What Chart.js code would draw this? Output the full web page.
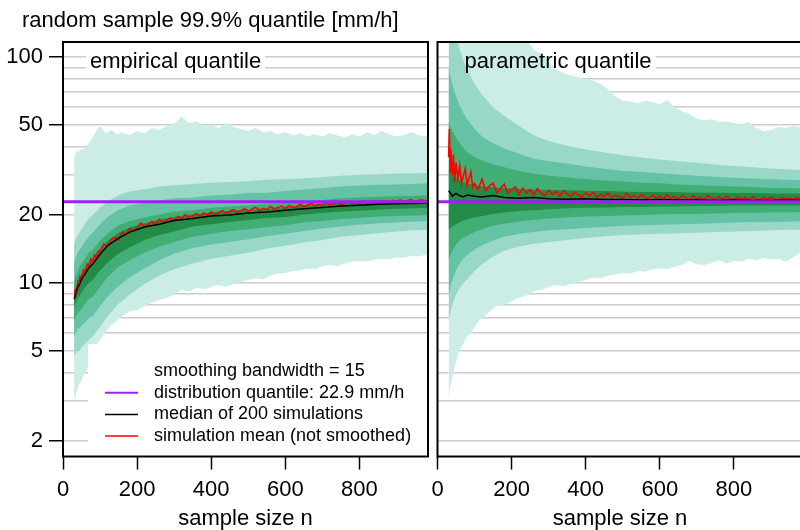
<!DOCTYPE html>
<html>
<head>
<meta charset="utf-8">
<script src="https://cdn.jsdelivr.net/npm/chart.js@4.4.1/dist/chart.umd.min.js"></script>
<style>
  html, body { margin: 0; padding: 0; background: #fff; overflow: hidden; width: 800px; height: 530px; }
  canvas { position: absolute; top: 0; }
  #leftChart { left: 0; }
  #rightChart { left: 421px; }
</style>
</head>
<body>
<canvas id="leftChart" width="432" height="530"></canvas>
<canvas id="rightChart" width="390" height="530"></canvas>
<script>
// ---- data ----
const trueQ = 22.9;
const xRange = [0, 985];
const yRange = [1.707, 116.5];
const xTicks = [0, 200, 400, 600, 800];
const yLabels = [2, 5, 10, 20, 50, 100];
const yGrid = [2, 3, 4, 5, 6, 7, 8, 9, 10, 20, 30, 40, 50, 60, 70, 80, 90, 100];

// quantile bands (inner 4) sample sizes
const nBand = [30,35,40,45,50,60,70,80,100,120,150,180,220,260,300,350,400,450,500,550,600,650,700,750,800,850,900,950,985];
// outer band (min/max) sample sizes
const nOuter = [30,33,36,40,45,50,55,60,70,80,90,100,115,130,145,160,180,200,220,240,260,280,300,320,340,360,380,400,420,440,460,480,500,520,540,560,580,600,620,640,660,680,700,720,740,760,780,800,820,840,860,880,900,920,940,960,985];
// simulation mean sample sizes
const nMean = [30,32,34,36,38,40,43,46,50,55,60,65,70,75,80,85,90,95,100,110,120,130,140,150,160,170,180,190,200,210,220,230,240,250,260,270,280,290,300,310,320,330,340,350,360,370,380,390,400,410,420,430,440,450,460,470,480,490,500,510,520,530,540,550,560,570,580,590,600,610,620,630,640,650,660,670,680,690,700,710,720,730,740,750,760,770,780,790,800,810,820,830,840,850,860,870,880,890,900,910,920,930,940,950,960,970,980];

// empirical quantile panel
const empMedian = [8.5,9.0,9.6,9.9,10.4,11.0,11.7,12.1,13.4,14.6,15.8,16.8,17.7,18.2,18.9,19.3,19.8,20.0,20.4,20.6,21.0,21.3,21.6,21.9,22.1,22.3,22.4,22.5,22.6];
const empHi5 = [9.2,9.7,10.2,10.6,11.0,11.7,12.3,12.8,14.2,15.3,16.7,17.6,18.4,19.1,19.6,20.1,20.5,20.8,21.0,21.3,21.6,22.0,22.3,22.6,22.8,23.0,23.1,23.2,23.3];
const empHi4 = [10.2,10.8,11.3,11.8,12.2,12.9,13.6,14.0,15.4,16.5,18.0,18.8,19.5,20.1,20.7,21.0,21.5,21.8,22.0,22.4,22.6,23.0,23.3,23.7,23.9,24.1,24.2,24.3,24.4];
const empHi3 = [12.3,13.0,13.6,14.1,14.4,15.3,16.0,16.7,18.2,19.6,21.1,22.0,22.7,23.2,23.7,23.9,24.4,24.6,25.0,25.1,25.5,25.9,26.3,26.7,27.0,27.2,27.3,27.5,27.6];
const empHi2 = [14.9,15.7,16.3,16.8,17.3,18.4,19.3,20.0,21.6,22.9,24.5,25.4,26.0,26.7,27.1,27.4,27.8,28.0,28.2,28.6,28.8,29.1,29.4,29.8,30.1,30.3,30.5,30.6,30.7];
const empLo5 = [7.8,8.2,8.6,8.8,9.1,9.6,10.0,10.3,11.4,12.3,13.5,14.4,15.5,16.3,16.9,17.8,18.2,18.6,19.0,19.4,19.6,20.1,20.4,20.7,20.9,21.1,21.3,21.4,21.5];
const empLo4 = [6.8,7.1,7.4,7.5,7.7,8.1,8.5,8.7,9.6,10.6,11.8,12.6,13.6,14.5,15.2,16.0,16.5,17.0,17.3,17.7,18.0,18.5,18.8,19.2,19.4,19.7,19.8,19.9,20.0];
const empLo3 = [5.8,6.0,6.3,6.3,6.5,6.7,7.0,7.1,7.9,8.7,9.7,10.6,11.6,12.6,13.5,14.3,14.8,15.2,15.6,16.1,16.5,17.0,17.4,17.8,18.1,18.4,18.5,18.7,18.8];
const empLo2 = [4.7,4.9,5.0,5.0,5.2,5.4,5.6,5.8,6.4,7.1,8.1,8.9,9.9,10.8,11.5,12.2,12.8,13.2,13.6,14.2,14.6,15.1,15.5,16.0,16.3,16.6,16.9,17.1,17.2];
const empOuterHi = [36,37.5,38,38.5,38,39.5,39,40,41.5,44,47,49.5,46,47.5,45.5,46.5,45,47,46,48.5,47.5,49.5,50.5,54.5,51,52,49.5,50,48.5,51,49,48,47,48.5,46.5,47,45.5,46.5,45,46,44.5,45.5,44.5,46,45,44,45.5,44.5,46.5,45,47,45.5,44.5,45,46.5,45,44.5];
const empOuterLo = [2.9,3.1,3.3,3.4,3.6,3.7,3.9,4.0,4.3,4.9,5.3,5.6,6.1,6.5,6.8,7.1,7.5,7.6,7.9,8.2,8.4,8.6,8.9,9.3,9.2,9.5,9.4,9.6,9.8,9.6,9.9,10.1,10.3,10.5,10.4,10.8,11.0,11.1,11.3,11.4,11.6,11.5,11.9,12.0,11.9,12.2,12.4,12.5,12.4,12.7,12.8,12.7,13.0,12.9,13.2,13.1,13.4];
const empMean = [8.6,9.2,9.1,9.5,9.6,10.1,9.9,10.7,10.5,11.4,11.2,12.1,11.9,12.8,12.4,13.3,13.0,13.8,
  13.8,14.9,14.5,15.6,15.9,15.5,16.8,16.3,17.4,17.0,
  17.5,18.4,17.8,18.2,18.7,18.1,19.1,18.6,18.9,19.4,
  18.9,19.7,19.3,20.1,19.5,19.8,20.3,19.7,20.4,20.0,
  20.6,20.1,20.5,20.9,20.3,20.7,21.1,20.6,20.8,21.3,
  20.8,21.2,21.6,21.0,21.4,21.1,21.8,21.3,21.6,21.9,
  21.4,22.0,21.7,21.6,22.3,21.8,22.1,22.5,21.9,22.3,
  22.1,22.7,22.2,22.4,22.8,22.2,22.6,23.0,22.4,22.7,
  22.5,23.0,22.7,22.6,23.2,22.7,23.0,23.1,22.7,23.2,
  22.9,23.3,22.8,23.1,23.4,22.9,23.2,23.3,23.0];

// parametric quantile panel
const parMedian = [25.6,25.0,24.2,24.6,24.9,24.3,24.1,24.5,24.2,24.0,24.4,23.9,23.7,23.9,23.6,23.5,23.6,23.4,23.4,23.3,23.4,23.3,23.3,23.2,23.3,23.2,23.2,23.3,23.2];
const parHi5 = [32,31,30.2,29.6,29.2,28.4,27.9,27.6,27.1,26.8,26.5,26.3,26.1,25.9,25.8,25.7,25.6,25.5,25.4,25.3,25.3,25.2,25.1,25.1,25.0,25.0,24.9,24.9,24.9];
const parHi4 = [52,49,47,45.5,44,41.5,39.5,38,36,34.8,33.5,32.5,31.3,30.4,29.8,29.3,28.8,28.4,28.1,27.8,27.6,27.3,27.1,26.9,26.7,26.6,26.4,26.3,26.2];
const parHi3 = [90,82,76,71,67,61,56.5,53,48,44.5,41.5,39.5,37.3,35.5,34.6,33.7,32.8,32.0,31.4,31.0,30.6,30.2,29.8,29.5,29.2,29.0,28.8,28.6,28.5];
const parHi2 = [200,175,155,140,125,108,96,88,76,68,60,55,49.5,45,42.5,40.5,39,37.8,36.7,35.9,35.2,34.6,34.0,33.4,32.9,32.5,32.1,31.8,31.6];
const parLo5 = [17.2,17.5,17.8,18.0,18.2,18.6,18.9,19.1,19.5,19.8,20.2,20.5,20.8,21.0,21.2,21.4,21.5,21.6,21.7,21.7,21.8,21.8,21.9,21.9,22.0,22.0,22.0,22.0,22.0];
const parLo4 = [12.6,13.3,13.9,14.4,14.8,15.4,15.9,16.2,16.8,17.3,17.9,18.3,18.7,19.0,19.3,19.5,19.7,19.8,19.9,20.0,20.1,20.2,20.2,20.3,20.4,20.4,20.5,20.5,20.6];
const parLo3 = [8.8,9.6,10.3,10.9,11.4,12.2,12.8,13.3,14.1,14.7,15.4,16.0,16.5,16.8,17.1,17.3,17.5,17.7,17.9,18.0,18.1,18.2,18.3,18.4,18.5,18.6,18.6,18.7,18.7];
const parLo2 = [6.8,7.5,8.0,8.5,8.9,9.5,10.0,10.4,11.3,12.1,13.1,13.9,14.5,14.9,15.2,15.5,15.8,16.1,16.3,16.4,16.5,16.6,16.7,16.8,16.9,17.0,17.1,17.2,17.2];
const parOuterHi = [600,550,500,450,400,370,340,320,290,260,240,225,200,185,170,160,150,140,130,120,108,103,96,88,85,83,81.5,80,79,76,72,67,64,63.5,62.5,64,63,62,64.5,60,57.5,56,53.5,52.5,53,51.5,52,51,50.5,51.5,48.5,47,47.5,49,48.5,49.5,48.5];
const parOuterLo = [3.0,3.3,3.6,3.8,4.2,4.5,4.8,5.0,5.4,5.8,6.0,6.4,6.9,7.2,7.6,7.9,8.0,8.3,8.6,8.8,9.2,9.3,9.6,9.8,9.7,9.9,10.1,10.3,10.6,10.5,10.8,10.9,11.1,11.0,11.3,11.2,11.5,11.6,11.5,11.8,12.0,12.5,12.1,12.0,12.3,12.6,12.2,12.5,12.4,12.8,12.6,12.9,12.7,12.8,12.4,13.0,13.8];
const parMean = [36,48,31,39,33,30,37,28,34,29,33,27.5,30,32,27,29,31,26.5,
  27.5,26.0,28.8,25.6,26.9,27.6,25.1,26.2,27.4,24.9,
  25.8,26.6,24.7,26.3,25.0,25.9,24.5,26.2,24.9,24.4,
  25.7,24.6,25.4,24.2,25.6,24.8,24.1,25.3,24.5,24.0,
  25.1,24.3,25.2,23.9,24.7,24.1,25.0,23.8,24.5,24.2,
  23.7,24.9,23.9,24.4,23.6,24.6,24.0,23.6,24.5,23.8,
  24.3,23.5,24.6,23.7,24.1,23.5,24.4,23.8,23.4,24.3,
  23.6,24.0,23.4,24.4,23.7,23.4,24.1,23.5,24.2,23.6,
  23.3,24.0,23.5,23.9,23.3,24.1,23.6,23.3,23.9,23.4,
  24.0,23.5,23.3,23.9,23.4,23.8,23.3,23.9,23.4];

const bandColors = ["#ccece6", "#99d8c9", "#66c2a4", "#41ae76", "#238b45"];
const legendLabels = ["smoothing bandwidth = 15", "distribution quantile: 22.9 mm/h",
                      "median of 200 simulations", "simulation mean (not smoothed)"];
const legendColors = [null, "#a020f0", "#000000", "#ff0000"];

const FONT = "'Liberation Sans', Arial, Helvetica, sans-serif";

// ---- helpers ----
function pts(xs, ys) {
    return xs.map((x, i) => ({ x: x, y: ys[i] }));
}

function bandPair(xs, lo, hi, color, order) {
    const base = { borderColor: "rgba(0,0,0,0)", borderWidth: 0, pointRadius: 0, order: order };
    return [
        { ...base, data: pts(xs, lo), fill: false },
        { ...base, data: pts(xs, hi), fill: "-1", backgroundColor: color }
    ];
}

function panelDatasets(p) {
    return [
        { data: [{ x: xRange[0], y: trueQ }, { x: xRange[1], y: trueQ }], borderColor: "#a020f0", borderWidth: 3, pointRadius: 0, fill: false, order: 0 },
        { data: pts(nBand, p.median), borderColor: "#000000", borderWidth: 1.5, pointRadius: 0, fill: false, order: 1 },
        { data: pts(nMean, p.mean), borderColor: "#ff0000", borderWidth: 1.6, pointRadius: 0, fill: false, order: 2 },
        ...bandPair(nBand, p.lo5, p.hi5, bandColors[4], 3),
        ...bandPair(nBand, p.lo4, p.hi4, bandColors[3], 4),
        ...bandPair(nBand, p.lo3, p.hi3, bandColors[2], 5),
        ...bandPair(nBand, p.lo2, p.hi2, bandColors[1], 6),
        ...bandPair(nOuter, p.outerLo, p.outerHi, bandColors[0], 7)
    ];
}

function xScale() {
    return {
        type: "linear",
        min: xRange[0],
        max: xRange[1],
        afterBuildTicks: s => { s.ticks = xTicks.map(v => ({ value: v })); },
        afterFit: s => { s.height = 73.5; },
        ticks: { font: { family: FONT, size: 22 }, color: "#000", padding: 7, maxRotation: 0, autoSkip: false },
        grid: { drawOnChartArea: false, tickLength: 13, tickColor: "#000", tickWidth: 1.5 },
        border: { display: false },
        title: { display: true, text: "sample size n", color: "#000",
                 font: { family: FONT, size: 22, lineHeight: 1 }, padding: 0 }
    };
}

function yScale(showLabels, width) {
    return {
        type: "logarithmic",
        min: yRange[0],
        max: yRange[1],
        afterBuildTicks: s => { s.ticks = yGrid.map(v => ({ value: v })); },
        afterFit: s => { s.width = width; },
        ticks: {
            display: showLabels,
            autoSkip: false,
            font: { family: FONT, size: 22 },
            color: "#000",
            padding: 6,
            callback: v => yLabels.includes(v) ? String(v) : ""
        },
        grid: {
            color: "#cccccc",
            lineWidth: 1.5,
            drawTicks: showLabels,
            tickLength: 14,
            tickWidth: 1.5,
            tickColor: c => (c.tick && yLabels.includes(c.tick.value)) ? "#000" : "rgba(0,0,0,0)"
        },
        border: { display: false }
    };
}

// labels, legend, box
function decor(label, withLegend, withTitle) {
    return {
        id: "decor",
        beforeDatasetsDraw(chart) {
            const { ctx, chartArea: a } = chart;
            ctx.save();
            ctx.font = "22px " + FONT;
            const w = ctx.measureText(label).width;
            ctx.fillStyle = "#fff";
            ctx.fillRect(a.left + 23, 50, w + 8, 26);
            ctx.restore();
        },
        afterDatasetsDraw(chart) {
            const { ctx, chartArea: a } = chart;
            ctx.save();
            if (withLegend) {
                ctx.fillStyle = "#fff";
                ctx.fillRect(a.left + 25, 344, a.right - a.left - 25, a.bottom - 344);
                ctx.font = "18px " + FONT;
                ctx.textBaseline = "alphabetic";
                legendLabels.forEach((t, i) => {
                    const yb = 376 + i * 21.7;
                    if (legendColors[i]) {
                        ctx.strokeStyle = legendColors[i];
                        ctx.lineWidth = i === 1 ? 2 : 1.5;
                        ctx.beginPath();
                        ctx.moveTo(a.left + 42, yb - 5);
                        ctx.lineTo(a.left + 75, yb - 5);
                        ctx.stroke();
                    }
                    ctx.fillStyle = "#000";
                    ctx.fillText(t, a.left + 91, yb);
                });
            }
            ctx.font = "22px " + FONT;
            ctx.fillStyle = "#000";
            ctx.textBaseline = "alphabetic";
            ctx.fillText(label, a.left + 27, 67.5);
            ctx.strokeStyle = "#000";
            ctx.lineWidth = 2;
            ctx.strokeRect(a.left, a.top, a.right - a.left, a.bottom - a.top);
            if (withTitle) {
                ctx.fillText("random sample 99.9% quantile [mm/h]", 22, 27);
            }
            ctx.restore();
        }
    };
}

function makePanel(id, p, yAxis, padRight, label, withLegend, withTitle) {
    return new Chart(document.getElementById(id), {
        type: "line",
        data: { datasets: panelDatasets(p) },
        options: {
            responsive: false,
            animation: false,
            devicePixelRatio: 1,
            layout: { padding: { top: 42, left: 0, right: padRight, bottom: 0 } },
            plugins: { legend: { display: false }, tooltip: { enabled: false } },
            scales: { x: xScale(), y: yAxis }
        },
        plugins: [decor(label, withLegend, withTitle)]
    });
}

// Empirical quantile
makePanel("leftChart", {
    median: empMedian, mean: empMean,
    hi5: empHi5, hi4: empHi4, hi3: empHi3, hi2: empHi2,
    lo5: empLo5, lo4: empLo4, lo3: empLo3, lo2: empLo2,
    outerHi: empOuterHi, outerLo: empOuterLo
}, yScale(true, 63), 4, "empirical quantile", true, true);

// Parametric quantile
makePanel("rightChart", {
    median: parMedian, mean: parMean,
    hi5: parHi5, hi4: parHi4, hi3: parHi3, hi2: parHi2,
    lo5: parLo5, lo4: parLo4, lo3: parLo3, lo2: parLo2,
    outerHi: parOuterHi, outerLo: parOuterLo
}, yScale(false, 16.5), 8.5, "parametric quantile", false, false);
</script>
</body>
</html>
